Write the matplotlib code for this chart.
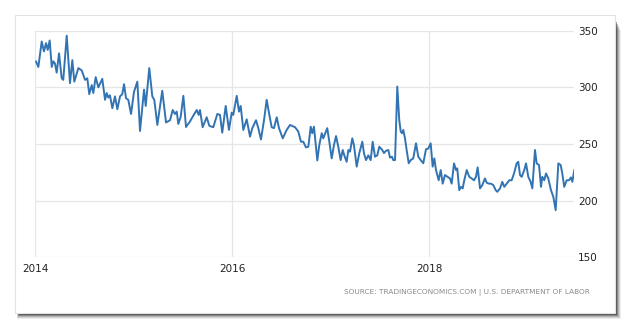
import matplotlib
matplotlib.use("Agg")
import matplotlib.pyplot as plt
from matplotlib.patches import Rectangle

# ---- data (initial jobless claims, thousands) ----
years = [
 2014.010, 2014.034, 2014.068, 2014.091, 2014.112, 2014.129, 2014.149, 2014.170, 2014.186, 2014.203,
 2014.220, 2014.244, 2014.271, 2014.287, 2014.322, 2014.355, 2014.379, 2014.399, 2014.440, 2014.474,
 2014.508, 2014.531, 2014.551, 2014.576, 2014.592, 2014.616, 2014.643, 2014.683, 2014.711, 2014.728,
 2014.744, 2014.761, 2014.785, 2014.812, 2014.836, 2014.863, 2014.886, 2014.904, 2014.924, 2014.947,
 2014.975, 2015.005, 2015.039, 2015.066, 2015.107, 2015.124, 2015.160, 2015.191, 2015.211, 2015.242,
 2015.292, 2015.330, 2015.371, 2015.398, 2015.421, 2015.439, 2015.455, 2015.479, 2015.506, 2015.533,
 2015.574, 2015.607, 2015.642, 2015.662, 2015.675, 2015.702, 2015.743, 2015.770, 2015.810, 2015.851,
 2015.878, 2015.901, 2015.936, 2015.969, 2015.997, 2016.013, 2016.048, 2016.071, 2016.088, 2016.115,
 2016.149, 2016.183, 2016.206, 2016.244, 2016.267, 2016.294, 2016.325, 2016.352, 2016.379, 2016.403,
 2016.426, 2016.454, 2016.477, 2016.515, 2016.555, 2016.589, 2016.640, 2016.673, 2016.700, 2016.724,
 2016.751, 2016.775, 2016.799, 2016.815, 2016.832, 2016.866, 2016.886, 2016.911, 2016.927, 2016.967,
 2016.988, 2017.012, 2017.035, 2017.056, 2017.079, 2017.103, 2017.124, 2017.140, 2017.164, 2017.181,
 2017.198, 2017.221, 2017.238, 2017.266, 2017.292, 2017.323, 2017.340, 2017.360, 2017.384, 2017.408,
 2017.428, 2017.452, 2017.475, 2017.495, 2017.523, 2017.543, 2017.563, 2017.587, 2017.604, 2017.624,
 2017.637, 2017.655, 2017.678, 2017.698, 2017.713, 2017.726, 2017.739, 2017.756, 2017.773, 2017.794,
 2017.814, 2017.840, 2017.868, 2017.891, 2017.916, 2017.942, 2017.969, 2017.993, 2018.017, 2018.037,
 2018.054, 2018.071, 2018.098, 2018.119, 2018.139, 2018.162, 2018.190, 2018.213, 2018.230, 2018.254,
 2018.274, 2018.287, 2018.307, 2018.325, 2018.342, 2018.358, 2018.383, 2018.409, 2018.433, 2018.457,
 2018.477, 2018.494, 2018.518, 2018.541, 2018.568, 2018.586, 2018.609, 2018.629, 2018.653, 2018.677,
 2018.693, 2018.721, 2018.744, 2018.764, 2018.789, 2018.815, 2018.839, 2018.863, 2018.890, 2018.906,
 2018.924, 2018.941, 2018.967, 2018.985, 2019.008, 2019.032, 2019.049, 2019.076, 2019.093, 2019.117,
 2019.137, 2019.150, 2019.170, 2019.188, 2019.211, 2019.238, 2019.262, 2019.286, 2019.313, 2019.337,
 2019.353, 2019.373, 2019.398, 2019.421, 2019.441, 2019.455, 2019.475,
]
claims = [
 322.8, 318.0, 340.5, 331.7, 339.0, 333.0, 341.4, 318.0, 323.0, 321.0,
 313.0, 330.0, 308.0, 306.6, 345.6, 303.7, 324.0, 305.0, 317.0, 315.0,
 306.6, 308.0, 294.0, 302.0, 295.0, 309.0, 300.0, 307.5, 289.0, 295.0,
 291.0, 293.0, 281.6, 292.0, 280.7, 292.0, 294.0, 302.8, 290.4, 289.0,
 276.5, 296.0, 305.0, 261.5, 298.0, 283.6, 317.0, 292.0, 289.0, 266.8,
 297.0, 269.0, 271.0, 280.0, 276.5, 278.6, 267.7, 274.0, 292.5, 265.0,
 270.0, 275.0, 280.0, 275.7, 280.0, 264.8, 273.6, 266.0, 264.8, 276.5,
 275.7, 260.0, 283.6, 262.4, 277.7, 275.7, 292.5, 278.6, 283.6, 262.4,
 271.8, 256.5, 264.0, 271.0, 264.0, 254.0, 271.0, 289.0, 275.7, 264.8,
 264.0, 273.6, 264.0, 255.0, 262.4, 266.8, 264.8, 261.0, 252.0, 252.0,
 247.0, 247.6, 265.3, 259.5, 265.3, 235.5, 249.0, 259.5, 255.0, 264.0,
 252.0, 237.3, 249.0, 257.0, 247.6, 235.8, 244.7, 240.0, 234.3, 244.7,
 243.2, 255.0, 249.0, 230.0, 241.8, 252.0, 241.8, 235.8, 240.0, 235.8,
 252.0, 238.8, 240.0, 247.6, 245.0, 242.0, 244.0, 244.7, 238.0, 238.8,
 235.8, 235.8, 300.7, 271.0, 261.0, 259.5, 262.4, 255.0, 244.7, 233.0,
 235.8, 237.3, 250.6, 238.8, 235.8, 233.0, 245.3, 246.0, 250.6, 230.0,
 237.3, 227.0, 218.0, 227.0, 215.0, 222.6, 221.0, 219.6, 215.0, 232.9,
 227.0, 228.5, 209.3, 212.2, 210.8, 218.0, 227.0, 221.0, 219.6, 218.0,
 221.0, 229.4, 210.8, 213.7, 219.6, 215.8, 215.0, 215.0, 213.7, 209.3,
 207.8, 210.8, 216.6, 212.2, 215.0, 218.0, 218.0, 224.0, 232.9, 234.3,
 222.6, 221.0, 227.0, 232.9, 221.0, 216.6, 210.8, 244.7, 232.9, 231.4,
 212.2, 221.0, 218.0, 224.0, 219.6, 209.3, 203.4, 191.6, 232.9, 231.4,
 224.0, 212.2, 218.0, 218.0, 220.5, 216.6, 227.0,
]
x_ticks = [2014, 2016, 2018]
x_tick_labels = ["2014", "2016", "2018"]
y_ticks = [150, 200, 250, 300, 350]
source_text = "SOURCE: TRADINGECONOMICS.COM | U.S. DEPARTMENT OF LABOR"

W, H = 630, 330
fig = plt.figure(figsize=(W / 100, H / 100), dpi=100)
fig.patch.set_facecolor("white")

def px(x0, y0, x1, y1):
    """pixel box (top-left origin) -> figure fraction rect"""
    return (x0 / W, 1 - y1 / H, (x1 - x0) / W, (y1 - y0) / H)

# drop shadow (layered, blurred look)
for i, a in enumerate([0.08, 0.12, 0.18, 0.28, 0.45, 0.6]):
    d = 6 - i
    l, b, w, h = px(17 + (6 - d) * 0.4, 30 - (6 - d) * 2, 615 + d, 313 + d)
    fig.patches.append(Rectangle((l, b), w, h, transform=fig.transFigure,
                                 facecolor="#1e1e1e", edgecolor="none", alpha=a, zorder=0))
# card
l, b, w, h = px(15, 15, 615, 313)
fig.patches.append(Rectangle((l, b), w, h, transform=fig.transFigure,
                             facecolor="white", edgecolor="#e3e3e3", linewidth=0.8, zorder=1))

ax = fig.add_axes(px(35, 30.7, 574, 257.3))
ax.set_facecolor("none")
ax.set_zorder(2)
ax.plot(years, claims, color="#3274b3", linewidth=1.4, solid_joinstyle="round")

ax.set_xlim(2014.0, 2019.472)
ax.set_ylim(150, 350)
ax.set_xticks(x_ticks)
ax.set_xticklabels(x_tick_labels)
ax.set_yticks(y_ticks)
ax.yaxis.tick_right()
ax.grid(True, color="#e6e6e6", linewidth=0.9)
ax.set_axisbelow(True)
for s in ax.spines.values():
    s.set_visible(False)
ax.tick_params(axis="both", length=0, labelsize=7.5, colors="#222222")
ax.tick_params(axis="x", pad=5)
ax.tick_params(axis="y", pad=3)

fig.text(590 / W, 1 - 293 / H, source_text, ha="right", va="center",
         fontsize=5.3, color="#8a8a8a", zorder=3)

fig.savefig("out.png", dpi=100, facecolor="white")
